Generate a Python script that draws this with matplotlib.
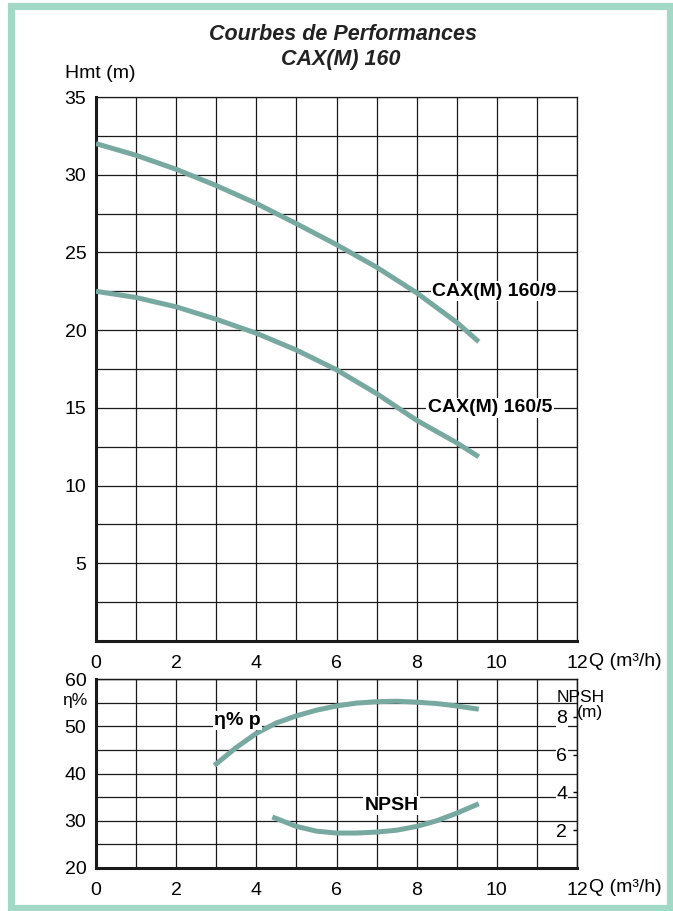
import matplotlib as mpl
mpl.use('Agg')
import matplotlib.pyplot as plt
import matplotlib.patches as mpatches
from matplotlib.ticker import FixedLocator

plt.rcParams['font.family'] = ['Liberation Sans', 'DejaVu Sans']

# Head curves (Q in m3/h, Hmt in m)
q_head = [0, 1, 2, 3, 4, 5, 6, 7, 8, 9, 9.55]
h_160_9 = [32.0, 31.25, 30.35, 29.3, 28.15, 26.85, 25.5, 24.05, 22.4, 20.5, 19.25]
h_160_5 = [22.5, 22.1, 21.5, 20.7, 19.8, 18.72, 17.45, 15.92, 14.2, 12.75, 11.85]

# Efficiency curve (%)
q_eff = [2.95, 3.5, 4.0, 4.5, 5.0, 5.5, 6.0, 6.5, 7.0, 7.5, 8.0, 8.5, 9.0, 9.55]
eff = [41.7, 45.5, 48.5, 50.7, 52.2, 53.4, 54.3, 54.9, 55.2, 55.3, 55.1, 54.8, 54.3, 53.6]

# NPSH curve (m)
q_npsh = [4.4, 5.0, 5.5, 6.0, 6.5, 7.0, 7.5, 8.0, 8.5, 9.0, 9.55]
npsh = [2.7, 2.2, 1.95, 1.85, 1.85, 1.9, 2.0, 2.2, 2.5, 2.9, 3.4]

x_labels = ['0', '', '2', '', '4', '', '6', '', '8', '', '10', '', '12']
npsh_ticks = [2, 4, 6, 8]

curve_col = '#78a9a0'
grid_col = '#1a1a1a'
lab_box = dict(facecolor='white', edgecolor='none', pad=1.0)

W, H = 673, 911
fig = plt.figure(figsize=(W/100, H/100), dpi=100)

# top chart: head
ax1 = fig.add_axes([96/W, 1-641/H, 481/W, 544/H])
ax1.plot(q_head, h_160_9, color=curve_col, lw=3.6, solid_capstyle='butt', zorder=3)
ax1.plot(q_head, h_160_5, color=curve_col, lw=3.6, solid_capstyle='butt', zorder=3)
ax1.set_xlim(0, 12)
ax1.set_ylim(0, 35)
ax1.set_xticks(range(13))
ax1.set_xticklabels(x_labels)
yt = [i*2.5 for i in range(15)]
ax1.set_yticks(yt)
ax1.set_yticklabels([('%d' % v) if (v % 5 == 0 and v > 0) else '' for v in yt])
ax1.grid(True, color=grid_col, lw=0.9)
ax1.tick_params(length=0, labelsize=14, pad=7)
ax1.tick_params(axis='x', pad=10)
ax1.text(9.93, 22.5, 'CAX(M) 160/9', fontsize=14, fontweight='bold', ha='center', va='center',
         bbox=lab_box, zorder=5)
ax1.text(9.83, 15.0, 'CAX(M) 160/5', fontsize=14, fontweight='bold', ha='center', va='center',
         bbox=lab_box, zorder=5)

# bottom chart: efficiency + NPSH
ax2 = fig.add_axes([96/W, 1-868/H, 481/W, 189/H])
ax2.plot(q_eff, eff, color=curve_col, lw=3.6, solid_capstyle='butt', zorder=3)
ax2.set_xlim(0, 12)
ax2.set_ylim(20, 60)
ax2.set_xticks(range(13))
ax2.set_xticklabels(x_labels)
ax2.set_yticks(range(20, 61, 5))
ax2.set_yticklabels([str(v) if v % 10 == 0 else '' for v in range(20, 61, 5)])
ax2.grid(True, color=grid_col, lw=0.9)
ax2.tick_params(length=0, labelsize=14, pad=7)
ax2.tick_params(axis='x', pad=10)
ax2.text(3.53, 51.2, 'η% p', fontsize=14, fontweight='bold', ha='center', va='center',
         bbox=lab_box, zorder=5)
ax2.text(7.38, 33.2, 'NPSH', fontsize=14, fontweight='bold', ha='center', va='center',
         bbox=lab_box, zorder=5)

ax3 = ax2.twinx()
ax3.plot(q_npsh, npsh, color=curve_col, lw=3.6, solid_capstyle='butt', zorder=3)
ax3.set_ylim(0, 10)
ax3.yaxis.set_major_locator(FixedLocator(npsh_ticks))
ax3.tick_params(axis='y', direction='in', length=3, width=1, pad=-7, labelsize=14)
for t in ax3.get_yticklabels():
    t.set_horizontalalignment('right')
    t.set_bbox(dict(facecolor='white', edgecolor='none', pad=0.5))

# spines
for ax in (ax1, ax2, ax3):
    for s in ax.spines.values():
        s.set_color(grid_col)
        s.set_linewidth(0.9)
for ax in (ax1, ax2):
    ax.spines['left'].set_linewidth(2.2)
    ax.spines['bottom'].set_linewidth(2.2)
ax3.spines['left'].set_visible(False)
ax3.spines['bottom'].set_visible(False)

# titles and axis labels
fig.text(343/W, 1-35/H, 'Courbes de Performances', fontsize=15.5, fontweight='bold',
         style='italic', ha='center', va='center', color='#222222')
fig.text(341/W, 1-60/H, 'CAX(M) 160', fontsize=15.5, fontweight='bold',
         style='italic', ha='center', va='center', color='#222222')
fig.text(65/W, 1-73/H, 'Hmt (m)', fontsize=14, ha='left', va='center')
fig.text(589/W, 1-661/H, 'Q (m³/h)', fontsize=14, ha='left', va='center')
fig.text(589/W, 1-887/H, 'Q (m³/h)', fontsize=14, ha='left', va='center')
fig.text(62/W, 1-701/H, 'η%', fontsize=12.5, ha='left', va='center')
fig.text(581/W, 1-697/H, 'NPSH', fontsize=12.5, ha='center', va='center')
fig.text(590/W, 1-713/H, '(m)', fontsize=12.5, ha='center', va='center')

# light green frame
frame = mpatches.Rectangle((11.5/W, 3/H), 658.5/W, 902.5/H, transform=fig.transFigure,
                           fill=False, edgecolor='#a2d8c6', lw=5.2, zorder=10)
fig.patches.append(frame)

fig.savefig('out.png', dpi=100)
